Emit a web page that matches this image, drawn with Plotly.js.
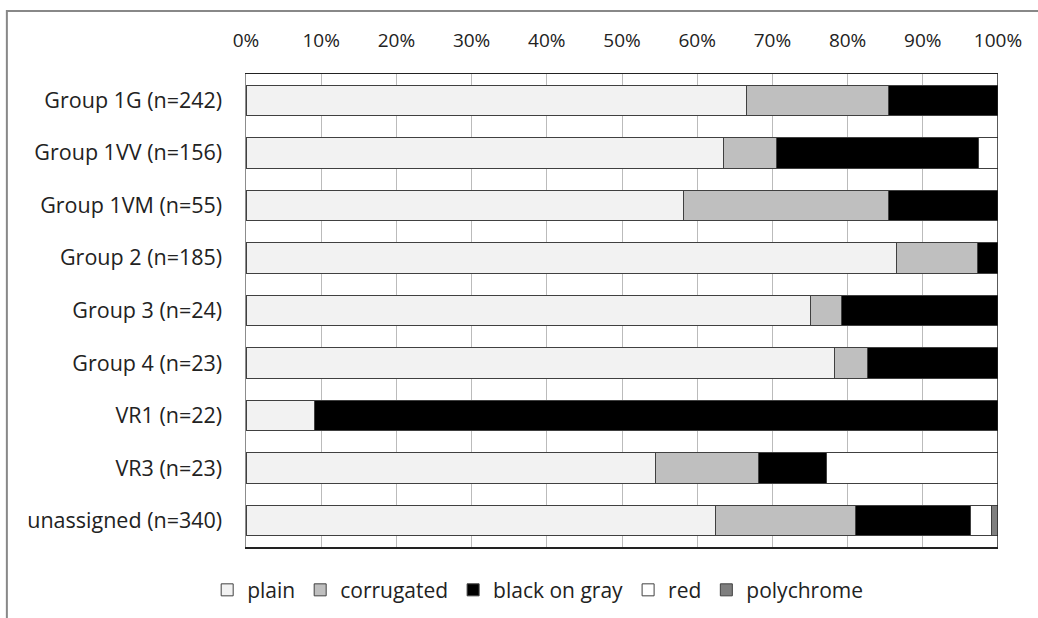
<!DOCTYPE html>
<html>
<head>
<meta charset="utf-8">
<script src="https://cdn.plot.ly/plotly-3.0.1.min.js"></script>
<style>html,body{margin:0;padding:0;background:#fff;}#chart{width:1038px;height:618px;}</style>
</head>
<body>
<div id="chart"></div>
<script>
var categories = ["Group 1G (n=242)","Group 1VV (n=156)","Group 1VM (n=55)","Group 2 (n=185)","Group 3 (n=24)","Group 4 (n=23)","VR1 (n=22)","VR3 (n=23)","unassigned (n=340)"];
var plain       = [66.5, 63.5, 58.2, 86.5, 75.0, 78.3,  9.1, 54.5, 62.4];
var corrugated  = [19.0,  7.0, 27.3, 10.8,  4.2,  4.3,  0.0, 13.6, 18.7];
var blackOnGray = [14.5, 26.9, 14.5,  2.7, 20.8, 17.4, 90.9,  9.1, 15.2];
var red         = [ 0.0,  2.6,  0.0,  0.0,  0.0,  0.0,  0.0, 22.8,  2.8];
var polychrome  = [ 0.0,  0.0,  0.0,  0.0,  0.0,  0.0,  0.0,  0.0,  0.9];
var seriesNames = ["plain","corrugated","black on gray","red","polychrome"];
var seriesColors = ["#F2F2F2","#BFBFBF","#000000","#FFFFFF","#7F7F7F"];
var tickVals = [0,10,20,30,40,50,60,70,80,90,100];
var tickText = ["0%","10%","20%","30%","40%","50%","60%","70%","80%","90%","100%"];

var allSeries = [plain, corrugated, blackOnGray, red, polychrome];
var traces = allSeries.map(function(vals, i){
  return {
    type: 'bar', orientation: 'h', name: seriesNames[i],
    y: categories, x: vals,
    marker: {color: seriesColors[i], line: {color: '#404040', width: 1}},
    hoverinfo: 'x+name'
  };
});

var font = "Open Sans, Noto Sans, sans-serif";
var layout = {
  width: 1038, height: 618,
  margin: {l: 246, r: 40, t: 74, b: 71},
  paper_bgcolor: '#ffffff', plot_bgcolor: '#ffffff',
  barmode: 'stack', bargap: 0.42,
  font: {family: font, size: 20, color: '#222'},
  xaxis: {
    side: 'top', range: [0, 100], tickvals: tickVals, ticktext: tickText,
    showgrid: true, gridcolor: '#BBBBBB', gridwidth: 1,
    showline: true, linecolor: '#222', linewidth: 1.5, mirror: true,
    ticks: '', ticklabelstandoff: 18, zeroline: false, fixedrange: true,
    tickfont: {family: font, size: 19, color: '#222'}
  },
  yaxis: {
    autorange: 'reversed', showline: true, linecolor: '#8C8C8C', linewidth: 1.5,
    ticks: '', ticklabelstandoff: 18, showgrid: false, fixedrange: true,
    tickfont: {family: font, size: 21.5, color: '#222'}
  },
  showlegend: true,
  legend: {
    orientation: 'h', xref: 'container', yref: 'container', x: 0.518, xanchor: 'center',
    y: 0.045, yanchor: 'middle', traceorder: 'normal',
    font: {family: font, size: 21, color: '#222'}, itemwidth: 30
  },
  shapes: [
    {type: 'line', xref: 'x', yref: 'paper', x0: 100, x1: 100, y0: 0, y1: 1,
     line: {color: '#222', width: 1.5}},
    {type: 'rect', xref: 'paper', yref: 'paper', x0: -0.318, x1: 1.2, y0: -0.3, y1: 1.133,
     line: {color: '#888888', width: 2}, fillcolor: 'rgba(0,0,0,0)', layer: 'below'}
  ]
};

Plotly.newPlot('chart', traces, layout, {displayModeBar: false, staticPlot: true});
</script>
</body>
</html>
